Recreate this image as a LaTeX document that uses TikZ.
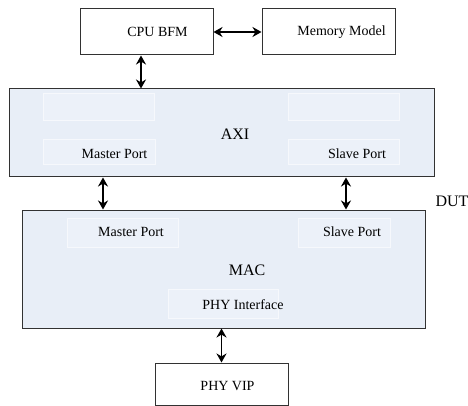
\documentclass[tikz,border=0pt]{standalone}
\usepackage{fontspec}
\setmainfont{Liberation Serif}
\usepackage{xcolor}
\definecolor{panelblue}{RGB}{232,238,247}
\definecolor{portblue}{RGB}{236,241,249}
\definecolor{portedge}{RGB}{246,248,252}
\definecolor{edgegray}{RGB}{50,50,50}
\usetikzlibrary{arrows.meta}

\begin{document}
\begin{tikzpicture}[x=1pt,y=-1pt,line cap=round]
	\tikzstyle{blk}=[draw=edgegray,line width=1pt,fill=white,inner sep=0pt];
	\tikzstyle{panel}=[draw=edgegray,line width=1pt,fill=panelblue,inner sep=0pt];
	\tikzstyle{port}=[draw=portedge,line width=1pt,fill=portblue,inner sep=0pt];
	\tikzstyle{txt}=[inner sep=0pt,font=\fontsize{14}{16}\selectfont];
	\tikzstyle{big}=[inner sep=0pt,font=\fontsize{16}{18}\selectfont];
	\tikzstyle{bus}=[{Stealth[length=9pt,width=10pt]}-{Stealth[length=9pt,width=10pt]},line width=1.8pt];
	\useasboundingbox (0,0) rectangle (468,406);
	% top blocks
	\node[blk,minimum width=133,minimum height=46] (cpu) at (146.5,32) {};
	\node[blk,minimum width=133,minimum height=46] (mem) at (328.5,32) {};
	\node[txt] at (157.5,32) {CPU BFM};
	\node[txt] at (341.5,32) {Memory Model};
	% AXI
	\node[panel,minimum width=425,minimum height=88] (axi) at (221.5,133) {};
	\node[port,minimum width=111,minimum height=27] (axiul) at (98.5,107.5) {};
	\node[port,minimum width=111,minimum height=27] (axiur) at (343.5,107.5) {};
	\node[port,minimum width=112,minimum height=25] (axim) at (99,152.5) {};
	\node[port,minimum width=111,minimum height=25] (axis) at (343.5,152.5) {};
	\node[big] at (235,134) {AXI};
	\node[txt] at (114.5,154) {Master Port};
	\node[txt] at (357,154) {Slave Port};
	% MAC
	\node[panel,minimum width=403,minimum height=118] (mac) at (223.5,269) {};
	\node[port,minimum width=111,minimum height=29] (macm) at (122.5,232.5) {};
	\node[port,minimum width=92,minimum height=29] (macs) at (344,232.5) {};
	\node[port,minimum width=110,minimum height=29] (phyif) at (223,303.5) {};
	\node[big] at (247,270) {MAC};
	\node[txt] at (131,232) {Master Port};
	\node[txt] at (352,232) {Slave Port};
	\node[txt] at (243,305) {PHY Interface};
	\node[big] at (452,201) {DUT};
	% PHY VIP
	\node[blk,minimum width=133,minimum height=42] (phy) at (221.5,384) {};
	\node[txt] at (227.5,386) {PHY VIP};
	% connections
	\draw[bus] (cpu) to (mem);
	\draw[bus] ([xshift=-5.5pt]cpu.south) to ([xshift=-5.5pt]cpu.south |- axi.north);
	\draw[bus] ([xshift=4pt]axim.south |- axi.south) to ([xshift=4pt]axim.south |- mac.north);
	\draw[bus] ([xshift=2.5pt]axis.south |- axi.south) to ([xshift=2.5pt]axis.south |- mac.north);
	\draw[bus] (phy.north |- mac.south) to (phy.north);
\end{tikzpicture}
\end{document}
